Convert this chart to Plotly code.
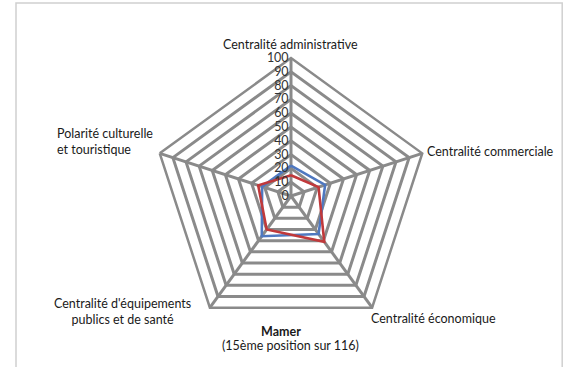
import plotly.graph_objects as go

categories = ["Centralité administrative", "Centralité commerciale", "Centralité économique",
              "Centralité d'équipements publics et de santé", "Polarité culturelle et touristique"]
label_text = ["Centralité administrative", "Centralité commerciale", "Centralité économique",
              "Centralité d'équipements<br>publics et de santé", "Polarité culturelle<br>et touristique"]
series_blue = [22, 26, 34, 36, 22]
series_red = [15, 21, 41, 30, 25]
radial_ticks = [0, 10, 20, 30, 40, 50, 60, 70, 80, 90, 100]
title_main = "Mamer"
title_sub = "(15ème position sur 116)"

W, H = 563, 367
FONT = "Lato"
FS = 12.5
GRID = "#8a8a8a"
TXT = "#1a1a1a"

def px(x):
    return x / W

def py(y):
    return 1 - y / H

fig = go.Figure()
for vals, col in [(series_blue, "#4F78C0"), (series_red, "#C0393B")]:
    fig.add_trace(go.Scatterpolar(
        r=vals + vals[:1], theta=categories + categories[:1], mode="lines",
        line=dict(color=col, width=2.6), showlegend=False, hoverinfo="skip"))

cx, cy, R = 291, 196, 138
fig.update_layout(
    width=W, height=H, margin=dict(l=0, r=0, t=0, b=0),
    paper_bgcolor="white", plot_bgcolor="white",
    font=dict(family=FONT, size=FS, color=TXT),
    polar=dict(
        domain=dict(x=[px(cx - R), px(cx + R)], y=[py(cy + R), py(cy - R)]),
        bgcolor="white", gridshape="linear",
        radialaxis=dict(range=[0, 100], tickvals=radial_ticks, angle=90, tickangle=90,
                        showline=False, gridcolor=GRID, gridwidth=2.5,
                        ticks="", tickfont=dict(family=FONT, size=FS, color="#333"),
                        side="counterclockwise"),
        angularaxis=dict(rotation=90, direction="clockwise", showticklabels=False,
                         ticks="", gridcolor=GRID, gridwidth=2.5,
                         linecolor=GRID, linewidth=2.5, categoryarray=categories,
                         categoryorder="array"),
    ),
)

ann = [
    (label_text[0], 290, 44, "center", "center"),
    (label_text[1], 425, 151, "left", "left"),
    (label_text[2], 369, 318, "left", "left"),
    (label_text[3], 122, 311, "center", "center"),
    (label_text[4], 55, 141, "left", "left"),
]
for t, x, y, xa, al in ann:
    fig.add_annotation(text=t, x=px(x), y=py(y), xref="paper", yref="paper",
                       xanchor=xa, yanchor="middle", align=al, showarrow=False,
                       font=dict(family=FONT, size=FS, color=TXT))

fig.add_annotation(text="<b>" + title_main + "</b>", x=px(281), y=py(331), xref="paper", yref="paper",
                   xanchor="center", yanchor="middle", showarrow=False,
                   font=dict(family=FONT, size=FS, color=TXT))
fig.add_annotation(text=title_sub, x=px(290), y=py(345), xref="paper", yref="paper",
                   xanchor="center", yanchor="middle", showarrow=False,
                   font=dict(family=FONT, size=FS, color=TXT))

fig.add_shape(type="rect", xref="paper", yref="paper", x0=px(16), x1=px(562.2), y0=py(372), y1=py(3),
              line=dict(color="#d0d0d0", width=1.5), fillcolor="rgba(0,0,0,0)", layer="below")

fig.write_html("out.html", config={"displayModeBar": False},
               post_script="document.body.style.margin='0';document.body.style.overflow='hidden';")
